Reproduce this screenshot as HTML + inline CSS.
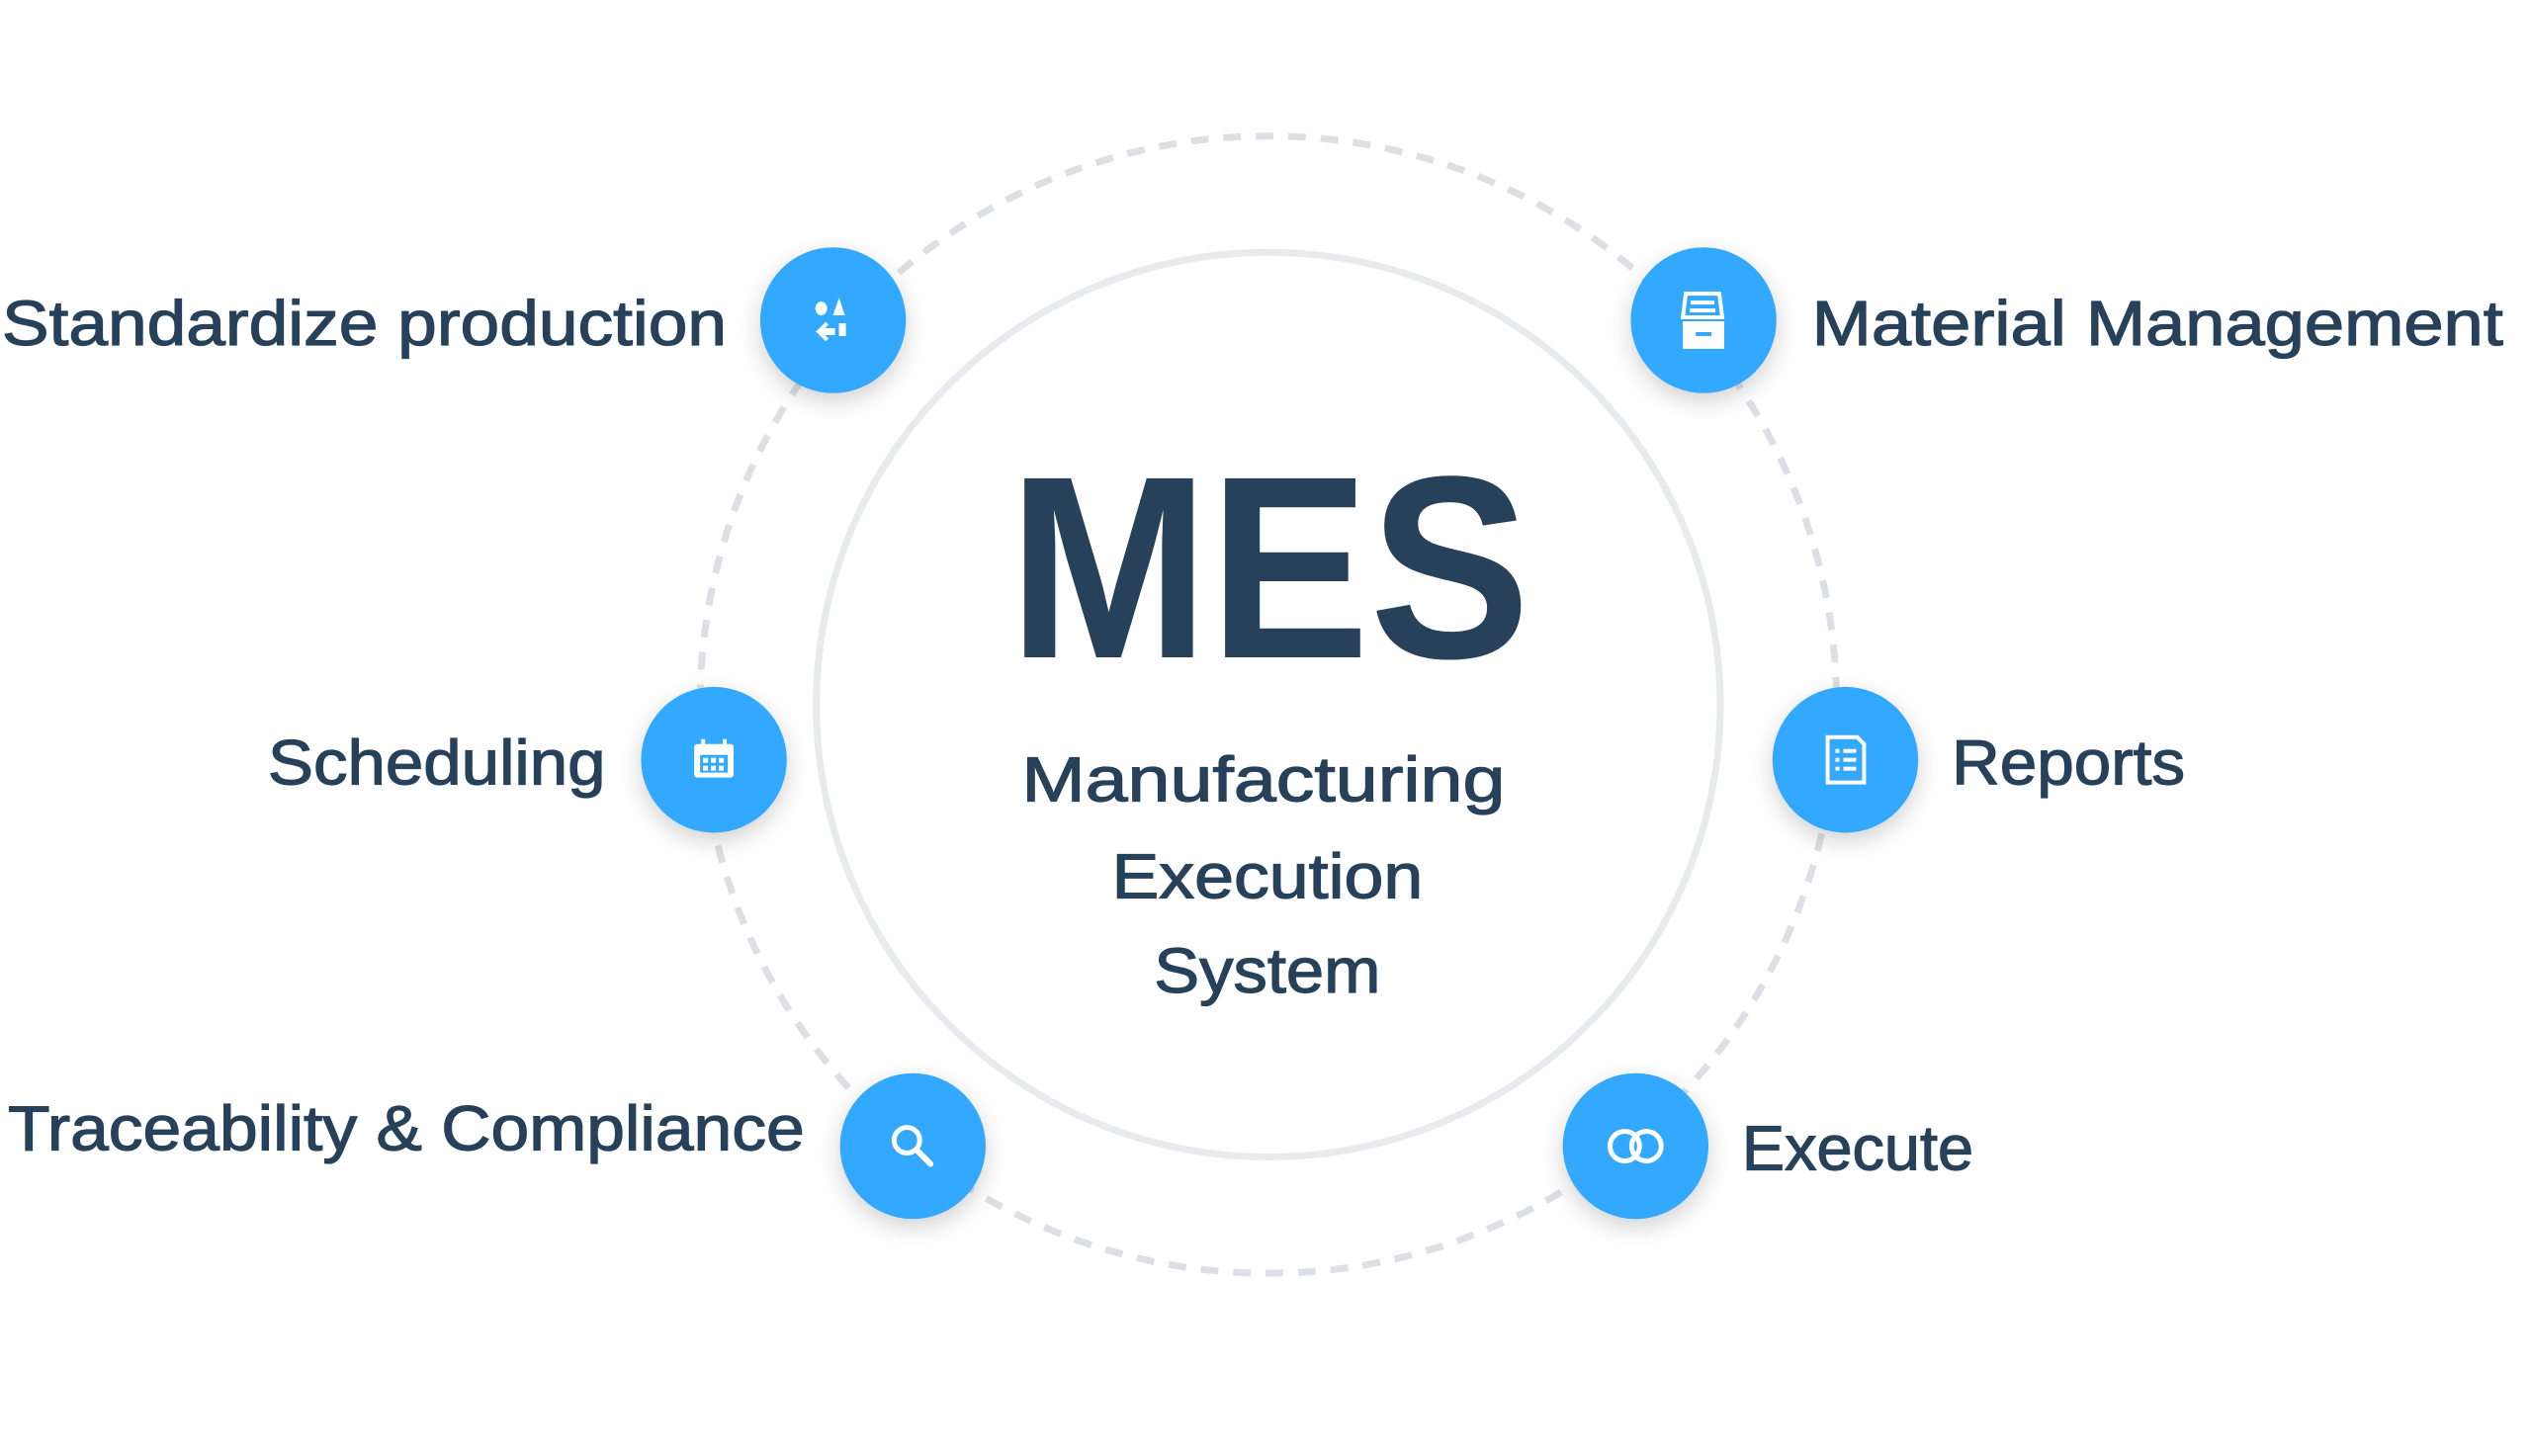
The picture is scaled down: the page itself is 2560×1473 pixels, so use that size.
<!DOCTYPE html>
<html><head><meta charset="utf-8"><style>
html,body{margin:0;padding:0;background:#fff;}
svg{display:block}
text{font-family:"Liberation Sans",sans-serif;fill:#264159;}
.l{stroke:#264159;stroke-width:1.2px;}
</style></head><body>
<svg width="2560" height="1473" viewBox="0 0 2560 1473" xmlns="http://www.w3.org/2000/svg">
<defs>
<filter id="sh" x="-50%" y="-50%" width="200%" height="200%">
<feDropShadow dx="0" dy="8" stdDeviation="12" flood-color="#000" flood-opacity="0.18"/>
</filter>
</defs>
<g transform="scale(0.996,0.997)">
<circle cx="1288" cy="715" r="577" fill="none" stroke="#dce0e4" stroke-width="7" stroke-dasharray="18 15"/>
<circle cx="1288" cy="715" r="459" fill="#fff" stroke="#e8eaee" stroke-width="7"/>
<text x="1024" y="667" font-size="264" font-weight="bold" textLength="530" lengthAdjust="spacingAndGlyphs">MES</text>
<text class="l" x="1283" y="813" font-size="64" text-anchor="middle" textLength="491" lengthAdjust="spacingAndGlyphs">Manufacturing</text>
<text class="l" x="1287" y="911" font-size="64" text-anchor="middle" textLength="316" lengthAdjust="spacingAndGlyphs">Execution</text>
<text class="l" x="1287" y="1007" font-size="64" text-anchor="middle" textLength="230" lengthAdjust="spacingAndGlyphs">System</text>

<g filter="url(#sh)" fill="#33a8ff">
<circle cx="846" cy="325" r="74"/>
<circle cx="1730" cy="325" r="74"/>
<circle cx="725" cy="771" r="74"/>
<circle cx="1874" cy="771" r="74"/>
<circle cx="927" cy="1163" r="74"/>
<circle cx="1661" cy="1163" r="74"/>
</g>
<g fill="#fff" stroke="none">
<ellipse cx="834" cy="313" rx="6" ry="7"/>
<polygon points="852,302 846,320 858,320"/>
<rect x="852" y="328" width="7" height="13"/>
<path d="M840,328 L833,335 L846,335 L846,338 L833,338 L840,345" fill="none" stroke="#fff" stroke-width="4"/>
<path d="M1712,298 h34 l3,24 h-40 z" fill="none" stroke="#fff" stroke-width="4"/>
<rect x="1717" y="305" width="24" height="4"/><rect x="1716" y="313" width="26" height="4"/>
<rect x="1709" y="326" width="42" height="28"/>
<rect x="1722" y="337" width="16" height="4" fill="#33a8ff"/>
<rect x="705" y="755" width="40" height="34" rx="3"/>
<rect x="711" y="766" width="28" height="18" fill="#33a8ff"/>
<g fill="#fff"><rect x="714" y="769" width="5" height="5"/><rect x="722" y="769" width="5" height="5"/><rect x="730" y="769" width="5" height="5"/><rect x="714" y="777" width="5" height="5"/><rect x="722" y="777" width="5" height="5"/><rect x="730" y="777" width="5" height="5"/></g>
<rect x="712" y="750" width="4" height="9"/><rect x="734" y="750" width="4" height="9"/>
<path d="M1856,748 h30 l7,7 v39 h-37 z" fill="none" stroke="#fff" stroke-width="4"/>
<g fill="#fff"><rect x="1864" y="760" width="4" height="4"/><rect x="1872" y="760" width="13" height="4"/><rect x="1864" y="769" width="4" height="4"/><rect x="1872" y="769" width="13" height="4"/><rect x="1864" y="778" width="4" height="4"/><rect x="1872" y="778" width="13" height="4"/></g>
</g>
<circle cx="921" cy="1157" r="13" fill="none" stroke="#fff" stroke-width="5"/>
<line x1="931" y1="1167" x2="945" y2="1181" stroke="#fff" stroke-width="6" stroke-linecap="round"/>
<circle cx="1650" cy="1163" r="15" fill="none" stroke="#fff" stroke-width="5"/>
<circle cx="1672" cy="1163" r="15" fill="none" stroke="#fff" stroke-width="5"/>

<text class="l" x="2" y="350" font-size="64" textLength="736" lengthAdjust="spacingAndGlyphs">Standardize production</text>
<text class="l" x="1840" y="350" font-size="64" textLength="702" lengthAdjust="spacingAndGlyphs">Material Management</text>
<text class="l" x="272" y="796" font-size="64" textLength="343" lengthAdjust="spacingAndGlyphs">Scheduling</text>
<text class="l" x="1982" y="796" font-size="64" textLength="237" lengthAdjust="spacingAndGlyphs">Reports</text>
<text class="l" x="8" y="1167" font-size="64" textLength="809" lengthAdjust="spacingAndGlyphs">Traceability &amp; Compliance</text>
<text class="l" x="1769" y="1187" font-size="64" textLength="235" lengthAdjust="spacingAndGlyphs">Execute</text>
</g>
</svg>
</body></html>
